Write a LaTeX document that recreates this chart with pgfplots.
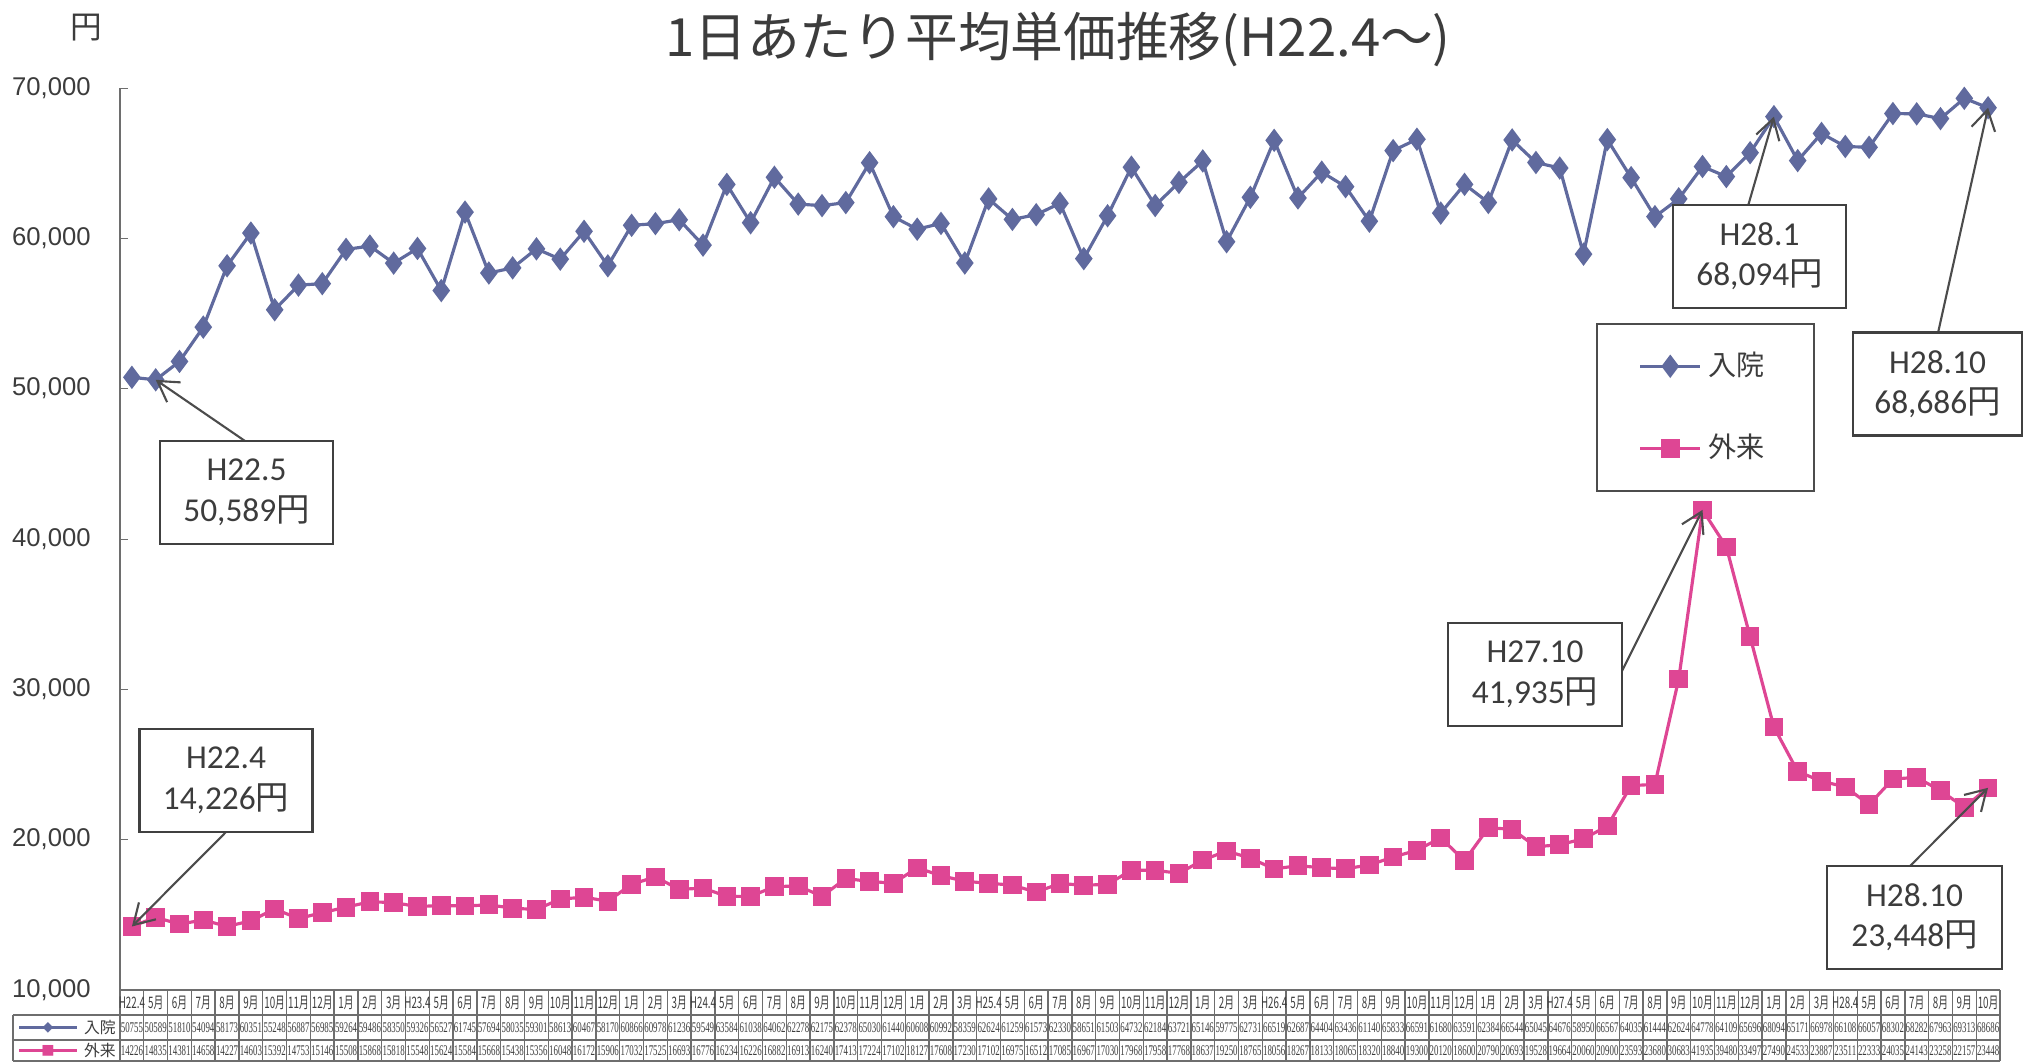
\documentclass[border=0pt]{standalone}
\usepackage{fontspec}
\setmainfont{Liberation Sans}
\newfontfamily\jp{Noto Sans CJK JP}
\newfontfamily\calfont{Carlito}
\newfontfamily\serfont{Liberation Serif}
\newfontfamily\symfont{DejaVu Sans}
\usepackage{graphicx}
\usepackage{pgfplots}
\usepackage{pgfplotstable}
\pgfplotsset{compat=1.18}
\usetikzlibrary{arrows.meta}

\definecolor{inblue}{RGB}{96,106,158}
\definecolor{outpink}{RGB}{222,70,148}
\definecolor{txt}{RGB}{60,60,60}
\definecolor{rule}{RGB}{110,110,110}

% monthly average unit price (yen): inpatient / outpatient
\pgfplotstableread{
idx lab in out
0 H22.4 50755 14226
1 5月 50589 14835
2 6月 51810 14381
3 7月 54094 14658
4 8月 58173 14227
5 9月 60351 14603
6 10月 55248 15392
7 11月 56887 14753
8 12月 56985 15146
9 1月 59264 15508
10 2月 59486 15868
11 3月 58350 15818
12 H23.4 59326 15548
13 5月 56527 15624
14 6月 61745 15584
15 7月 57694 15668
16 8月 58035 15438
17 9月 59301 15356
18 10月 58613 16048
19 11月 60467 16172
20 12月 58170 15906
21 1月 60866 17032
22 2月 60978 17525
23 3月 61236 16693
24 H24.4 59549 16776
25 5月 63584 16234
26 6月 61038 16226
27 7月 64062 16882
28 8月 62278 16913
29 9月 62175 16240
30 10月 62378 17413
31 11月 65030 17224
32 12月 61440 17102
33 1月 60608 18127
34 2月 60992 17608
35 3月 58359 17230
36 H25.4 62624 17102
37 5月 61259 16975
38 6月 61573 16512
39 7月 62330 17085
40 8月 58651 16967
41 9月 61503 17030
42 10月 64732 17968
43 11月 62184 17958
44 12月 63721 17768
45 1月 65146 18637
46 2月 59775 19250
47 3月 62731 18765
48 H26.4 66519 18056
49 5月 62687 18267
50 6月 64404 18133
51 7月 63436 18065
52 8月 61140 18320
53 9月 65833 18840
54 10月 66591 19300
55 11月 61680 20120
56 12月 63591 18600
57 1月 62384 20790
58 2月 66544 20693
59 3月 65045 19528
60 H27.4 64676 19664
61 5月 58950 20060
62 6月 66567 20900
63 7月 64035 23593
64 8月 61444 23680
65 9月 62624 30683
66 10月 64778 41935
67 11月 64109 39480
68 12月 65696 33497
69 1月 68094 27490
70 2月 65171 24533
71 3月 66978 23887
72 H28.4 66108 23511
73 5月 66057 22333
74 6月 68302 24035
75 7月 68282 24143
76 8月 67963 23258
77 9月 69313 22157
78 10月 68686 23448
}\data

\begin{document}
\begin{tikzpicture}
\useasboundingbox (-1.20,-0.72) rectangle (19.03,9.90);
\begin{axis}[
    width=18.8cm, height=9.02cm, scale only axis,
    xmin=-0.5, xmax=78.5,
    ymin=10000, ymax=70000,
    axis x line*=bottom, axis y line*=left,
    xtick=\empty,
    ytick={10000,20000,...,70000},
    scaled y ticks=false,
    /pgf/number format/assume math mode=true,
    /pgf/number format/1000 sep={,},
    yticklabel style={font=\fontsize{7.3}{9}\selectfont, text=txt, xshift=-0.17cm},
    tick align=inside, major tick length=0.08cm,
    axis line style={draw=rule, line width=0.5pt},
    tick style={draw=rule},
    clip=false,
    legend style={at={(0.785,0.7395)}, anchor=north west,
        draw=black!70, line width=0.5pt,
        font=\jp\fontsize{8}{9}\selectfont, text=txt,
        inner xsep=0.42cm, inner ysep=0.21cm, row sep=0.39cm},
    legend cell align=left,
]
\addplot[color=inblue, line width=0.9pt, mark=diamond*, mark size=2.6pt,
    mark options={fill=inblue}] table[x=idx, y=in]{\data};
\addlegendentry{入院}
\addplot[color=outpink, line width=0.9pt, mark=square*, mark size=2.2pt,
    mark options={fill=outpink}] table[x=idx, y=out]{\data};
\addlegendentry{外来}

\coordinate (a0) at (axis cs:0,14226);
\coordinate (a1) at (axis cs:1,50589);
\coordinate (a66) at (axis cs:66,41935);
\coordinate (a69) at (axis cs:69,68094);
\coordinate (a78i) at (axis cs:78,68686);
\coordinate (a78o) at (axis cs:78,23448);
\end{axis}

% data table under the plot
\draw[rule, line width=0.4pt] (-1.07,-0.25) -- (18.8,-0.25);
\draw[rule, line width=0.4pt] (-1.07,-0.50) -- (18.8,-0.50);
\draw[rule, line width=0.4pt] (-1.07,-0.71) -- (18.8,-0.71);
\draw[rule, line width=0.4pt] (-1.07,-0.25) -- (-1.07,-0.71);
\foreach \i in {0,...,79}{
    \pgfmathsetmacro\xl{\i*18.8/79}
    \draw[rule, line width=0.4pt] (\xl,0) -- (\xl,-0.71);
}
\foreach \i in {0,...,78}{
    \pgfplotstablegetelem{\i}{lab}\of\data \let\lab\pgfplotsretval
    \pgfplotstablegetelem{\i}{in}\of\data \let\vin\pgfplotsretval
    \pgfplotstablegetelem{\i}{out}\of\data \let\vout\pgfplotsretval
    \pgfmathsetmacro\xc{(\i+0.5)*18.8/79}
    \node[font=\jp\fontsize{4.5}{5}\selectfont, text=txt, inner sep=0pt] at (\xc,-0.125) {\scalebox{0.62}[1]{\lab}};
    \node[font=\serfont\fontsize{4.2}{5}\selectfont, text=txt, inner sep=0pt] at (\xc,-0.375) {\scalebox{0.6}[1]{\vin}};
    \node[font=\serfont\fontsize{4.2}{5}\selectfont, text=txt, inner sep=0pt] at (\xc,-0.605) {\scalebox{0.6}[1]{\vout}};
}
\draw[inblue, line width=0.9pt] (-1.01,-0.375) -- (-0.43,-0.375);
\node[inblue, font=\symfont\fontsize{4}{5}\selectfont, inner sep=0pt] at (-0.72,-0.375) {◆};
\draw[outpink, line width=0.9pt] (-1.01,-0.605) -- (-0.43,-0.605);
\node[outpink, font=\symfont\fontsize{4}{5}\selectfont, inner sep=0pt] at (-0.72,-0.605) {■};
\node[font=\jp\fontsize{4.5}{5}\selectfont, text=txt] at (-0.2,-0.375) {入院};
\node[font=\jp\fontsize{4.5}{5}\selectfont, text=txt] at (-0.2,-0.605) {外来};

% title and unit
\node[font=\jp\fontsize{15}{17}\selectfont, text=txt] at (9.38,9.51) {1日あたり平均単価推移(H22.4～)};
\node[font=\jp\fontsize{9}{10}\selectfont, text=txt] at (-0.34,9.62) {円};

% callouts
\tikzset{
    callout/.style={draw=black!75, line width=0.8pt, fill=white, align=center,
        minimum width=1.73cm, minimum height=1.03cm, inner sep=1pt,
        font=\calfont\fontsize{9.5}{11.5}\selectfont, text=txt},
    arr/.style={draw=black!70, line width=0.6pt, -{Straight Barb[length=2mm, width=2.4mm]}},
}
\draw[arr] (1.25,5.49) -- (a1);
\draw[arr] (1.06,1.58) -- (a0);
\draw[arr] (15.02,3.19) -- (a66);
\draw[arr] (16.28,7.84) -- (a69);
\draw[arr] (18.18,6.57) -- (a78i);
\draw[arr] (17.89,1.23) -- (a78o);
\node[callout] at (1.265,4.975) {H22.5\\50,589{\jp 円}};
\node[callout] at (1.06,2.095) {H22.4\\14,226{\jp 円}};
\node[callout, minimum width=1.74cm] at (14.15,3.155) {H27.10\\41,935{\jp 円}};
\node[callout] at (16.395,7.335) {H28.1\\68,094{\jp 円}};
\node[callout, minimum width=1.69cm] at (18.175,6.06) {H28.10\\68,686{\jp 円}};
\node[callout, minimum width=1.75cm] at (17.945,0.725) {H28.10\\23,448{\jp 円}};
\end{tikzpicture}
\end{document}
